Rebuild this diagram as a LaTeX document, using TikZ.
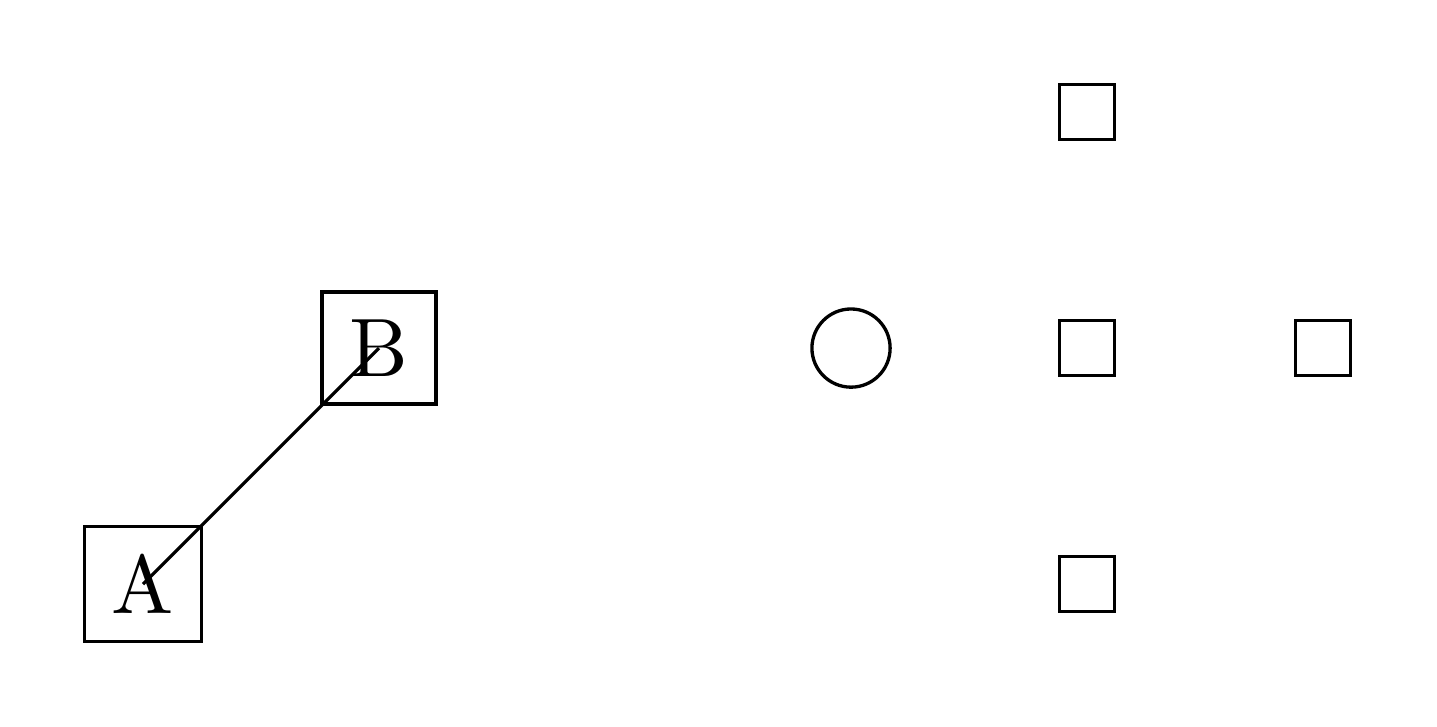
\documentclass[tikz,border=0pt]{standalone}
\begin{document}
\begin{tikzpicture}[scale=2, transform shape, line width=0.8pt,
  boxnode/.style={draw, rectangle},
  ringnode/.style={draw, circle}]
\useasboundingbox (-0.606,-1.602) rectangle (5.483,1.475);
\node[boxnode] (A) at (0,-1) {A};
\node[boxnode] (B) at (1,0) {B};
\node[ringnode] (c) at (3,0) {};
\node[boxnode] (s1) at (4,1) {};
\node[boxnode] (s2) at (4,0) {};
\node[boxnode] (s3) at (4,-1) {};
\node[boxnode] (s4) at (5,0) {};
\draw (A.center) -- (B.center);
\end{tikzpicture}
\end{document}
